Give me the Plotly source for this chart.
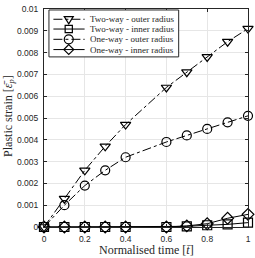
import plotly.graph_objects as go

time = [0, 0.1, 0.2, 0.3, 0.4, 0.6, 0.7, 0.8, 0.9, 1.0]
two_way_outer = [0, 0.0013, 0.0026, 0.0037, 0.0047, 0.0064, 0.0071, 0.0078, 0.0085, 0.0091]
two_way_inner = [0, 0, 0, 0, 0, 0, 0.00003, 0.00008, 0.00012, 0.0002]
one_way_outer = [0, 0.001, 0.0019, 0.0026, 0.0032, 0.0039, 0.0042, 0.0045, 0.0048, 0.0051]
one_way_inner = [0, 0, 0, 0, 0, 0, 0.00005, 0.00015, 0.0004, 0.00058]

x_ticks = [0, 0.2, 0.4, 0.6, 0.8, 1]
x_ticktext = ["0", "0.2", "0.4", "0.6", "0.8", "1"]
y_ticks = [0, 0.001, 0.002, 0.003, 0.004, 0.005, 0.006, 0.007, 0.008, 0.009, 0.01]
y_ticktext = ["0", "0.001", "0.002", "0.003", "0.004", "0.005", "0.006", "0.007", "0.008", "0.009", "0.01"]

series_names = ["Two-way - outer radius", "Two-way - inner radius",
                "One-way - outer radius", "One-way - inner radius"]
series_values = [two_way_outer, two_way_inner, one_way_outer, one_way_inner]
symbols = ["triangle-down-open", "square-open", "circle-open", "diamond-open"]
dashes = ["dashdot", "solid", "dashdot", "solid"]

W, H = 255, 258
ML, MR, MT, MB = 44, 5, 4, 31
PW, PH = W - ML - MR, H - MT - MB

def px(xp):
    return (xp - ML) / PW

def py(yp):
    return 1 - (yp - MT) / PH

fig = go.Figure()
for name, vals, sym, dash in zip(series_names, series_values, symbols, dashes):
    fig.add_trace(go.Scatter(
        x=time, y=vals, name=name, mode="lines+markers",
        line=dict(color="black", width=1, dash=dash),
        marker=dict(symbol=sym, size=9, color="black", line=dict(color="black", width=1.2)),
        cliponaxis=False, showlegend=False,
    ))

axis_common = dict(
    showline=True, linecolor="#262626", linewidth=1, mirror="ticks",
    ticks="inside", ticklen=3, tickcolor="#262626",
    showgrid=True, gridcolor="#e6e6e6", gridwidth=1, zeroline=False,
    ticklabeloverflow="allow",
    tickfont=dict(family="Liberation Sans, Arial, sans-serif", size=8.5, color="#262626"),
)

fig.update_xaxes(range=[0, 1], tickvals=x_ticks, ticktext=x_ticktext, ticklabelstandoff=4, **axis_common)
fig.update_yaxes(range=[0, 0.01], tickvals=y_ticks, ticktext=y_ticktext, ticklabelstandoff=3, **axis_common)

serif = "Liberation Serif, Times New Roman, serif"
fig.add_annotation(text="Normalised time [<i>t\u0304</i>]", xref="paper", yref="paper",
                   x=px(147), y=py(251), xanchor="center", yanchor="middle", showarrow=False,
                   font=dict(family=serif, size=12, color="#262626"))
fig.add_annotation(text="Plastic strain [<i>\u03b5\u0304</i><sub><i>p</i></sub>]", xref="paper", yref="paper",
                   x=px(8), y=py(113), xanchor="center", yanchor="middle", textangle=-90, showarrow=False,
                   font=dict(family=serif, size=12, color="#262626"))

# manual legend (compact, as in the reference)
shapes = []
shapes.append(dict(type="rect", xref="paper", yref="paper", x0=px(49), x1=px(180), y0=py(53), y1=py(5),
                   line=dict(color="#262626", width=1), fillcolor="white", layer="above"))
entry_y = [14.5, 24.5, 35, 45.5]
r = 4.5
marker_paths = {
    "triangle-down-open": f"M{-r},{r*0.6} L{r},{r*0.6} L0,{-r} Z",
    "square-open": f"M{-r*0.8},{-r*0.8} L{r*0.8},{-r*0.8} L{r*0.8},{r*0.8} L{-r*0.8},{r*0.8} Z",
    "circle-open": None,
    "diamond-open": f"M0,{r*1.1} L{r*1.1},0 L0,{-r*1.1} L{-r*1.1},0 Z",
}
annotations = []
for name, sym, dash, ey in zip(series_names, symbols, dashes, entry_y):
    shapes.append(dict(type="line", xref="paper", yref="paper", x0=px(53.5), x1=px(85), y0=py(ey), y1=py(ey),
                       line=dict(color="black", width=1, dash=dash), layer="above"))
    if marker_paths[sym] is None:
        shapes.append(dict(type="circle", xref="paper", yref="paper", xsizemode="pixel", ysizemode="pixel",
                           xanchor=px(69), yanchor=py(ey), x0=-r, x1=r, y0=-r, y1=r,
                           line=dict(color="black", width=1.2), layer="above"))
    else:
        shapes.append(dict(type="path", xref="paper", yref="paper", xsizemode="pixel", ysizemode="pixel",
                           xanchor=px(69), yanchor=py(ey), path=marker_paths[sym],
                           line=dict(color="black", width=1.2), layer="above"))
    annotations.append(dict(text=name, xref="paper", yref="paper", x=px(88.5), y=py(ey),
                            xanchor="left", yanchor="middle", showarrow=False,
                            font=dict(family=serif, size=9, color="#262626")))

fig.update_layout(
    width=W, height=H,
    margin=dict(l=ML, r=MR, t=MT, b=MB),
    paper_bgcolor="white", plot_bgcolor="white",
    showlegend=False,
    shapes=shapes,
)
for a in annotations:
    fig.add_annotation(**a)

fig.write_html("out.html", config={"displayModeBar": False},
               post_script="document.body.style.margin='0';document.body.style.padding='0';")
